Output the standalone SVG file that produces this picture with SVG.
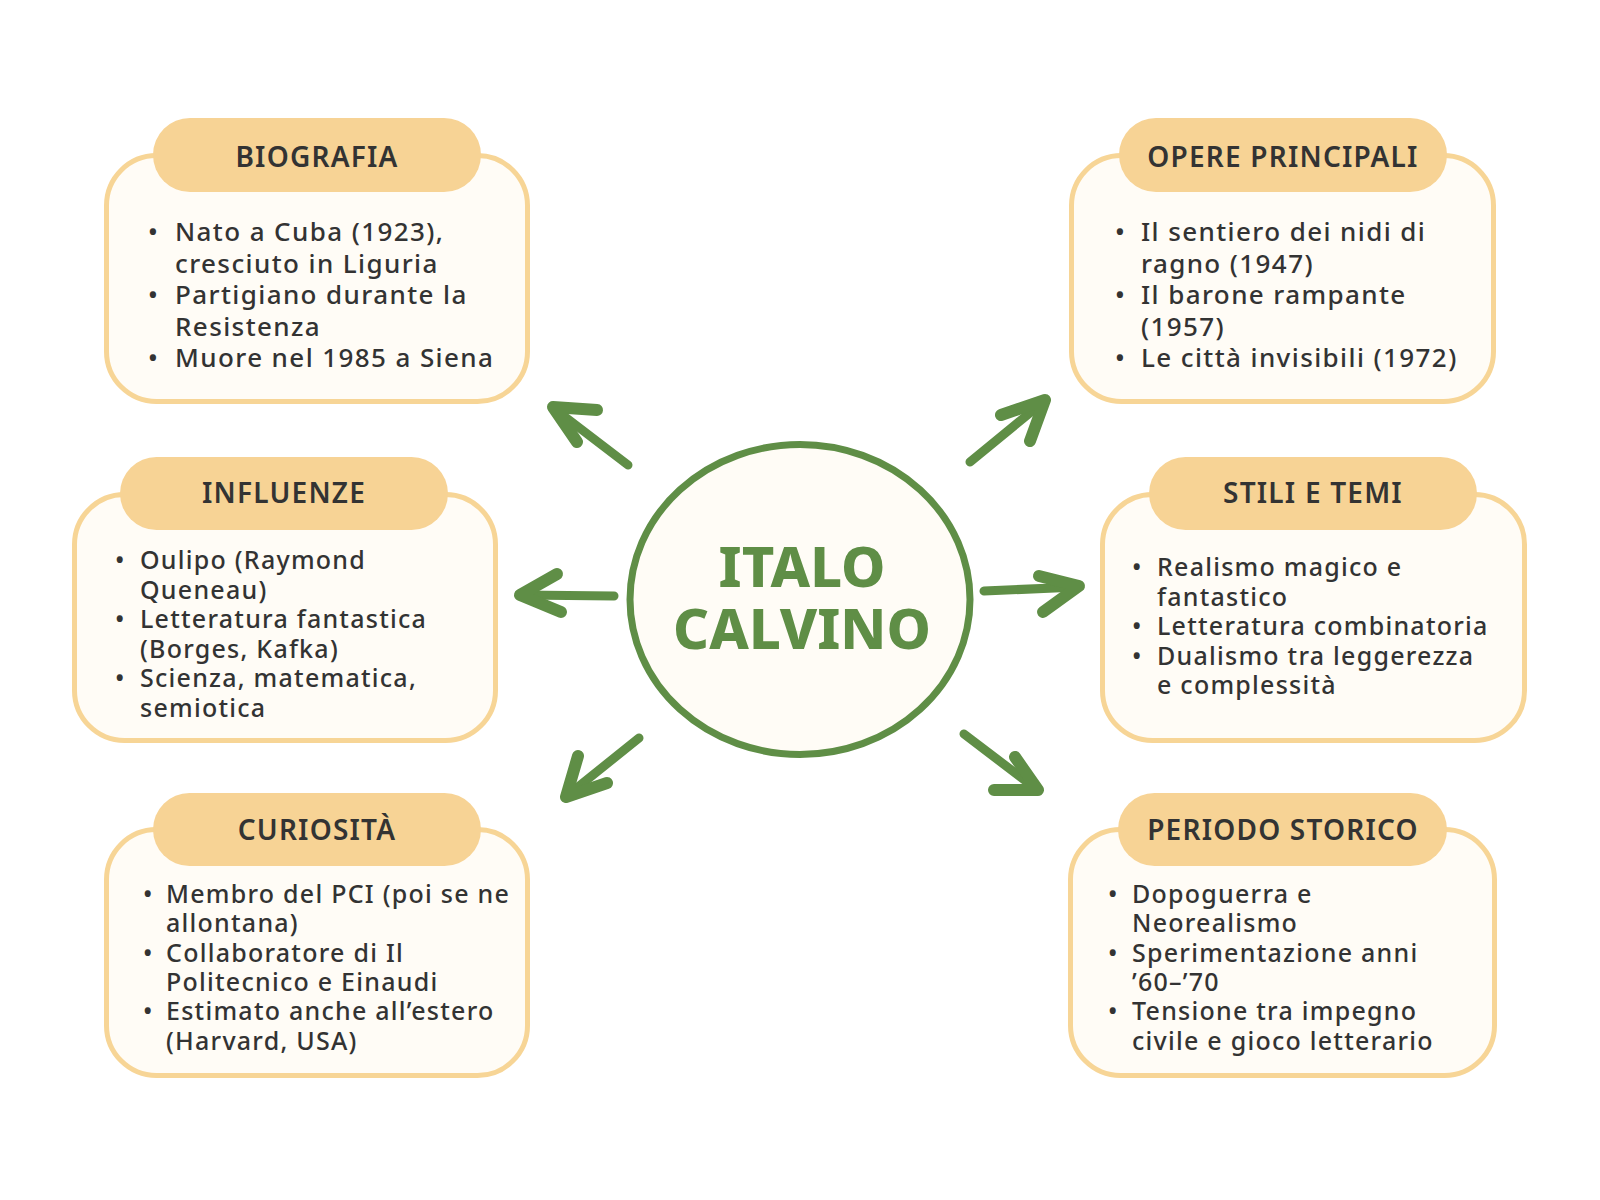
<svg xmlns="http://www.w3.org/2000/svg" width="1600" height="1200" viewBox="0 0 1600 1200">
  <style>
    .box { fill: #fffcf6; stroke: #f7d596; stroke-width: 5; }
    .pill { fill: #f7d395; }
    .title { font-family: "Noto Sans", "Liberation Sans", sans-serif; font-weight: 600; font-size: 28px; letter-spacing: 1.2px; fill: #333333; text-anchor: middle; }
    .body { font-family: "Noto Sans", "Liberation Sans", sans-serif; font-weight: 500; font-size: 26px; letter-spacing: 1.4px; fill: #333333; }
    .body2 { font-family: "Noto Sans", "Liberation Sans", sans-serif; font-weight: 500; font-size: 25px; letter-spacing: 1.25px; fill: #333333; }
    .center-text { font-family: "Noto Sans", "Liberation Sans", sans-serif; font-weight: 800; font-size: 56px; fill: #5f8e46; text-anchor: middle; }
    .shaft { fill: none; stroke: #5f8e46; stroke-width: 9; stroke-linecap: round; stroke-linejoin: round; }
    .head { fill: none; stroke: #5f8e46; stroke-width: 12; stroke-linecap: round; stroke-linejoin: round; }
  </style>
  <rect x="0" y="0" width="1600" height="1200" fill="#ffffff"/>

  <g id="connectors">
    <path class="shaft" d="M628 465 L556 410"/>
    <path class="head" d="M597 410 L553 407 L577 442"/>
    <path class="shaft" d="M970 462 L1042 403"/>
    <path class="head" d="M1001 415 L1045 400 L1030 441"/>
    <path class="shaft" d="M614 596 L522 595"/>
    <path class="head" d="M557 574 L520 595 L561 612"/>
    <path class="shaft" d="M984 591 L1077 587"/>
    <path class="head" d="M1039 576 L1079 586 L1043 612"/>
    <path class="shaft" d="M639 738 L568 795"/>
    <path class="head" d="M578 756 L566 797 L607 783"/>
    <path class="shaft" d="M964 734 L1035 788"/>
    <path class="head" d="M1015 757 L1038 790 L994 790"/>
  </g>

  <g id="center">
    <ellipse cx="800" cy="599.5" rx="170" ry="155" fill="#fffcf6" stroke="#5f8e46" stroke-width="7"/>
    <text class="center-text" x="802" y="587">ITALO<tspan x="802" y="649">CALVINO</tspan></text>
  </g>

  <g id="biografia">
    <rect class="box" x="106.5" y="155.5" width="421" height="246" rx="50"/>
    <rect class="pill" x="153" y="118" width="328" height="74" rx="37"/>
    <text class="title" x="317" y="167">BIOGRAFIA</text>
    <text class="body"><tspan x="148" y="241">•</tspan><tspan x="175" y="241">Nato a Cuba (1923),</tspan><tspan x="175" y="272.5">cresciuto in Liguria</tspan><tspan x="148" y="304">•</tspan><tspan x="175" y="304">Partigiano durante la</tspan><tspan x="175" y="335.5">Resistenza</tspan><tspan x="148" y="367">•</tspan><tspan x="175" y="367">Muore nel 1985 a Siena</tspan></text>
  </g>

  <g id="opere">
    <rect class="box" x="1071.5" y="155.5" width="422" height="246" rx="50"/>
    <rect class="pill" x="1119" y="118" width="328" height="74" rx="37"/>
    <text class="title" x="1283" y="167">OPERE PRINCIPALI</text>
    <text class="body"><tspan x="1115" y="241">•</tspan><tspan x="1141" y="241">Il sentiero dei nidi di</tspan><tspan x="1141" y="272.5">ragno (1947)</tspan><tspan x="1115" y="304">•</tspan><tspan x="1141" y="304">Il barone rampante</tspan><tspan x="1141" y="335.5">(1957)</tspan><tspan x="1115" y="367">•</tspan><tspan x="1141" y="367">Le città invisibili (1972)</tspan></text>
  </g>

  <g id="influenze">
    <rect class="box" x="74.5" y="494.5" width="421" height="246" rx="50"/>
    <rect class="pill" x="120" y="457" width="328" height="73" rx="36.5"/>
    <text class="title" x="284" y="503">INFLUENZE</text>
    <text class="body2"><tspan x="115" y="569">•</tspan><tspan x="140" y="569">Oulipo (Raymond</tspan><tspan x="140" y="598.6">Queneau)</tspan><tspan x="115" y="628.2">•</tspan><tspan x="140" y="628.2">Letteratura fantastica</tspan><tspan x="140" y="657.8">(Borges, Kafka)</tspan><tspan x="115" y="687.4">•</tspan><tspan x="140" y="687.4">Scienza, matematica,</tspan><tspan x="140" y="717">semiotica</tspan></text>
  </g>

  <g id="stili">
    <rect class="box" x="1102.5" y="494.5" width="422" height="246" rx="50"/>
    <rect class="pill" x="1149" y="457" width="328" height="73" rx="36.5"/>
    <text class="title" x="1313" y="503">STILI E TEMI</text>
    <text class="body2"><tspan x="1132" y="576">•</tspan><tspan x="1157" y="576">Realismo magico e</tspan><tspan x="1157" y="605.5">fantastico</tspan><tspan x="1132" y="635">•</tspan><tspan x="1157" y="635">Letteratura combinatoria</tspan><tspan x="1132" y="664.5">•</tspan><tspan x="1157" y="664.5">Dualismo tra leggerezza</tspan><tspan x="1157" y="694">e complessità</tspan></text>
  </g>

  <g id="curiosita">
    <rect class="box" x="106.5" y="829.5" width="421" height="246" rx="50"/>
    <rect class="pill" x="153" y="793" width="328" height="73" rx="36.5"/>
    <text class="title" x="317" y="840">CURIOSITÀ</text>
    <text class="body2"><tspan x="143" y="903">•</tspan><tspan x="166" y="903">Membro del PCI (poi se ne</tspan><tspan x="166" y="932.3">allontana)</tspan><tspan x="143" y="961.6">•</tspan><tspan x="166" y="961.6">Collaboratore di Il</tspan><tspan x="166" y="990.9">Politecnico e Einaudi</tspan><tspan x="143" y="1020.2">•</tspan><tspan x="166" y="1020.2">Estimato anche all’estero</tspan><tspan x="166" y="1049.5">(Harvard, USA)</tspan></text>
  </g>

  <g id="periodo">
    <rect class="box" x="1070.5" y="829.5" width="424" height="246" rx="50"/>
    <rect class="pill" x="1118" y="793" width="329" height="73" rx="36.5"/>
    <text class="title" x="1283" y="840">PERIODO STORICO</text>
    <text class="body2"><tspan x="1108" y="903">•</tspan><tspan x="1132" y="903">Dopoguerra e</tspan><tspan x="1132" y="932.3">Neorealismo</tspan><tspan x="1108" y="961.6">•</tspan><tspan x="1132" y="961.6">Sperimentazione anni</tspan><tspan x="1132" y="990.9">’60–’70</tspan><tspan x="1108" y="1020.2">•</tspan><tspan x="1132" y="1020.2">Tensione tra impegno</tspan><tspan x="1132" y="1049.5">civile e gioco letterario</tspan></text>
  </g>
</svg>
